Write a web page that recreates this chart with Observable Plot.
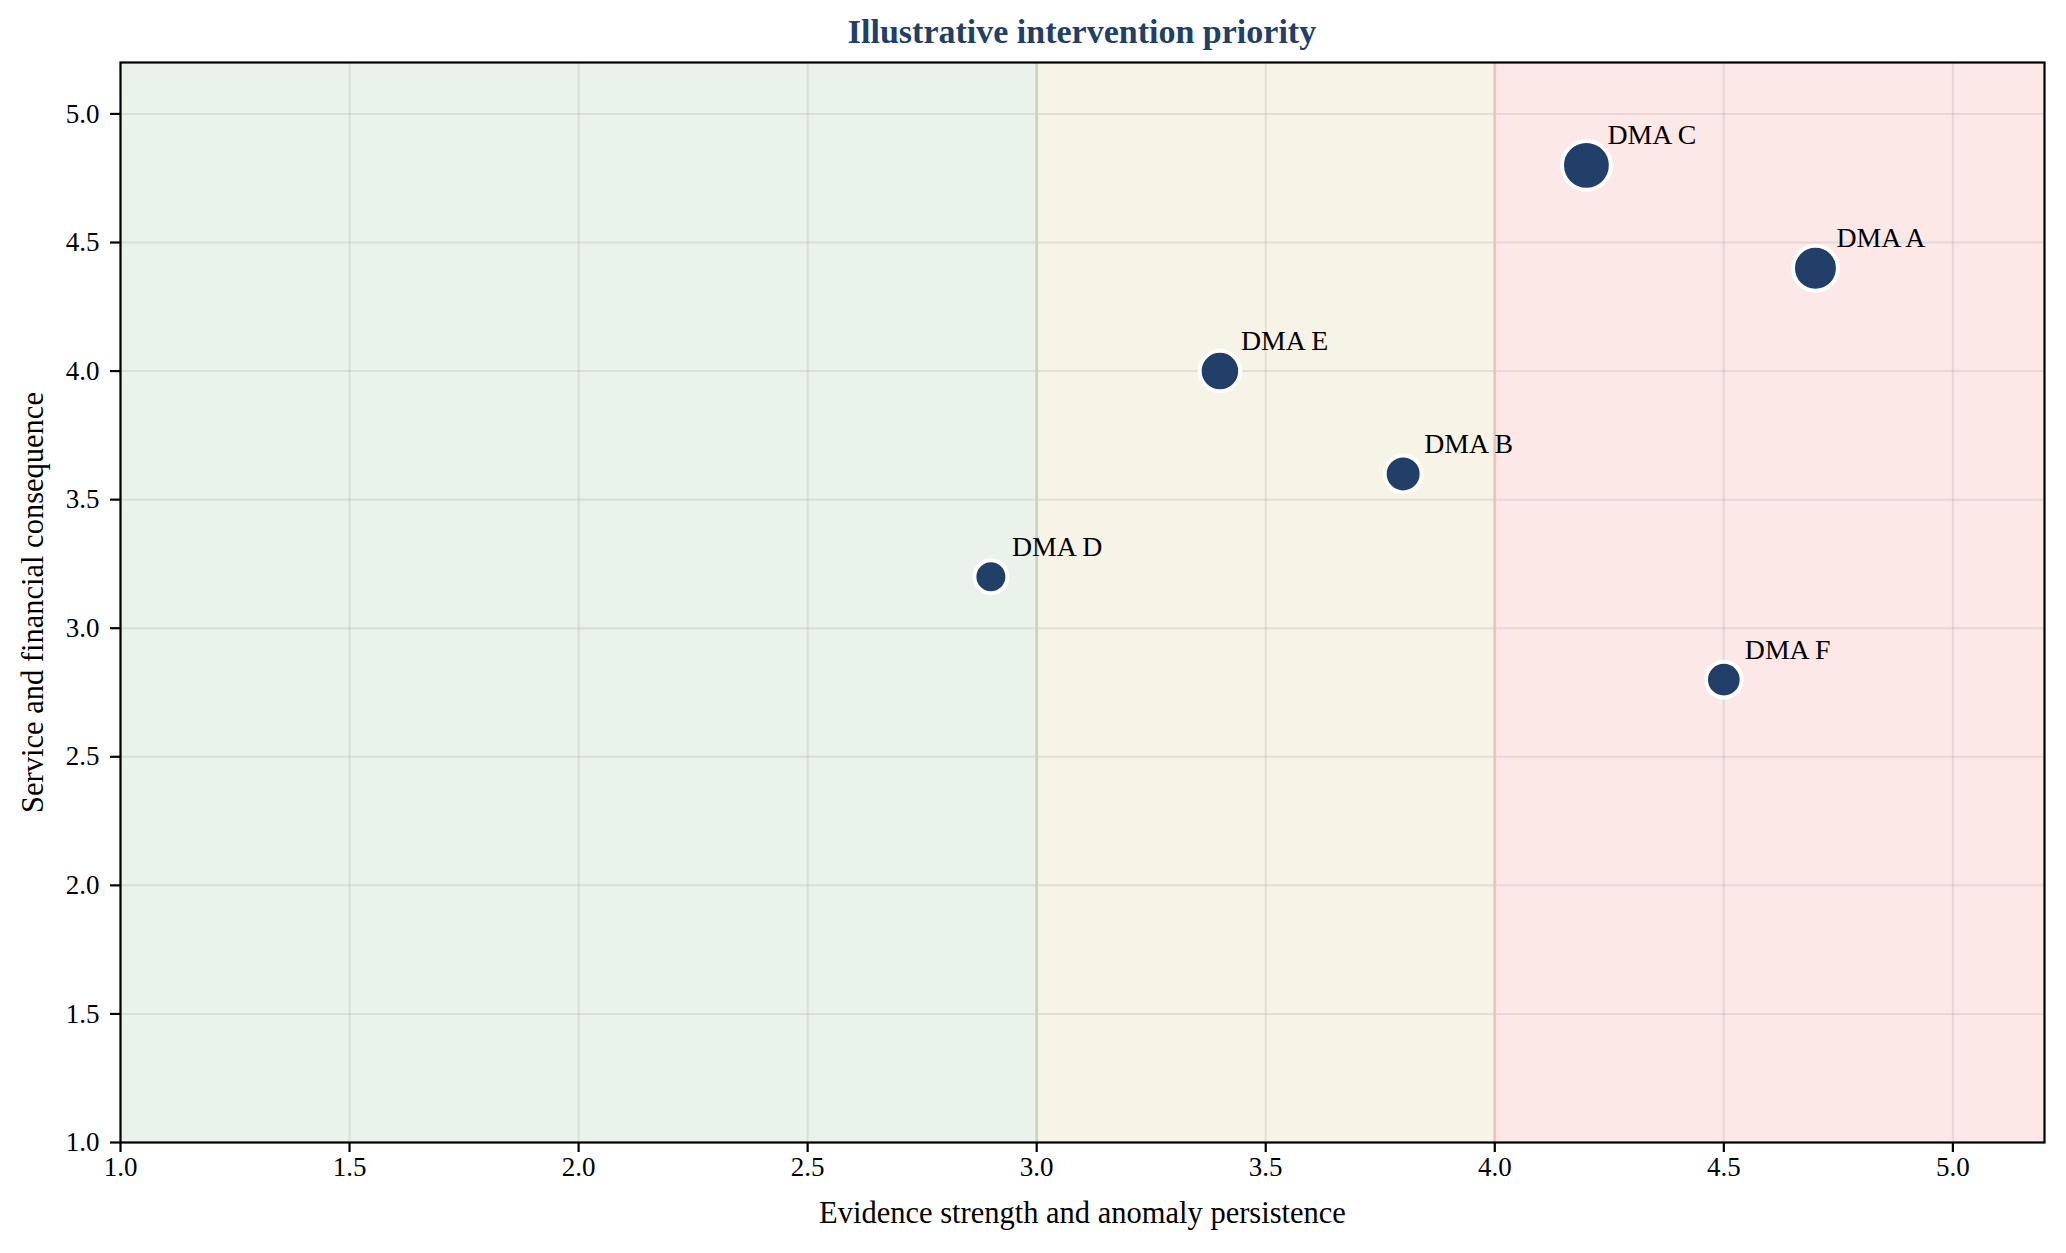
<!DOCTYPE html>
<html>
<head>
<meta charset="utf-8">
<script src="https://cdn.jsdelivr.net/npm/d3@7"></script>
<script src="https://cdn.jsdelivr.net/npm/@observablehq/plot@0.6"></script>
<style>
  html, body { margin: 0; padding: 0; background: #ffffff; }
  #wrap { position: relative; width: 2066px; height: 1253px; overflow: hidden; }
  #title { position: relative; height: 50px; }
  #title span {
    position: absolute; left: 120px; width: 1924px; top: 15px;
    text-align: center; font-family: "Liberation Serif", "Times New Roman", serif;
    font-weight: bold; font-size: 34px; line-height: 34px; color: #213f68;
  }
</style>
</head>
<body>
<div id="wrap">
  <div id="title"><span>Illustrative intervention priority</span></div>
  <div id="chart"></div>
</div>
<script>
// ---- data ----
const names = ["DMA A", "DMA B", "DMA C", "DMA D", "DMA E", "DMA F"];
const evidence = [4.7, 3.8, 4.2, 2.9, 3.4, 4.5];
const consequence = [4.4, 3.6, 4.8, 3.2, 4.0, 2.8];
const markerArea = [262, 177, 309, 141, 213, 165];

const zoneStart = [1, 3, 4];
const zoneEnd = [3, 4, 5.2];
const zoneFill = ["#e9f3ea", "#f7f3e7", "#fde8e8"];
const boundaryValues = [3, 4];
const boundaryColor = ["#cad7c0", "#ebc4bd"];

const xTicks = [1.0, 1.5, 2.0, 2.5, 3.0, 3.5, 4.0, 4.5, 5.0];
const yTicks = [1.0, 1.5, 2.0, 2.5, 3.0, 3.5, 4.0, 4.5, 5.0];
const xLabel = "Evidence strength and anomaly persistence";
const yLabel = "Service and financial consequence";

// ---- tables built from the arrays ----
const points = names.map((n, i) => ({name: n, x: evidence[i], y: consequence[i], s: markerArea[i]}));
const zones = zoneStart.map((s, i) => ({x1: s, x2: zoneEnd[i], fill: zoneFill[i]}));
const bounds = boundaryValues.map((v, i) => ({x: v, stroke: boundaryColor[i]}));

const fmt = d3.format(".1f");

const chart = Plot.plot({
  width: 2066,
  height: 1203,
  marginLeft: 120,
  marginRight: 22,
  marginTop: 12,
  marginBottom: 111,
  style: {fontFamily: "Liberation Serif, Times New Roman, serif", fontSize: "27px", color: "#000", background: "#fff", overflow: "visible"},
  x: {domain: [1, 5.2]},
  y: {domain: [1, 5.2]},
  r: {type: "sqrt", domain: [0, 309], range: [0, 24.4]},
  color: {type: "identity"},
  marks: [
    Plot.rect(zones, {x1: "x1", x2: "x2", fill: "fill"}),
    Plot.gridX(xTicks, {stroke: "#9a9a9a", strokeOpacity: 0.22, strokeWidth: 2}),
    Plot.gridY(yTicks, {stroke: "#9a9a9a", strokeOpacity: 0.22, strokeWidth: 2}),
    Plot.ruleX(bounds, {x: "x", stroke: "stroke", strokeWidth: 2.8}),
    Plot.axisX(xTicks, {tickFormat: fmt, tickSize: 10, tickPadding: 4, strokeWidth: 2.2, fontSize: 27, label: null}),
    Plot.axisY(yTicks, {tickFormat: fmt, tickSize: 10, tickPadding: 11, strokeWidth: 2.2, fontSize: 27, label: null}),
    Plot.frame({stroke: "#000", strokeWidth: 2.2}),
    Plot.dot(points, {x: "x", y: "y", r: "s", fill: "#213f68", stroke: "#ffffff", strokeWidth: 4}),
    Plot.text(points, {x: "x", y: "y", text: "name", dx: 21, dy: -21, textAnchor: "start", lineAnchor: "bottom", fontSize: 27.8, fill: "#000"}),
    Plot.text([xLabel], {frameAnchor: "bottom", dy: 80, text: d => d, fontSize: 30.5, fill: "#000", lineAnchor: "bottom"}),
    Plot.text([yLabel], {frameAnchor: "left", dx: -87, rotate: -90, textAnchor: "middle", text: d => d, fontSize: 30.5, fill: "#000"})
  ]
});
document.getElementById("chart").appendChild(chart);
</script>
</body>
</html>
